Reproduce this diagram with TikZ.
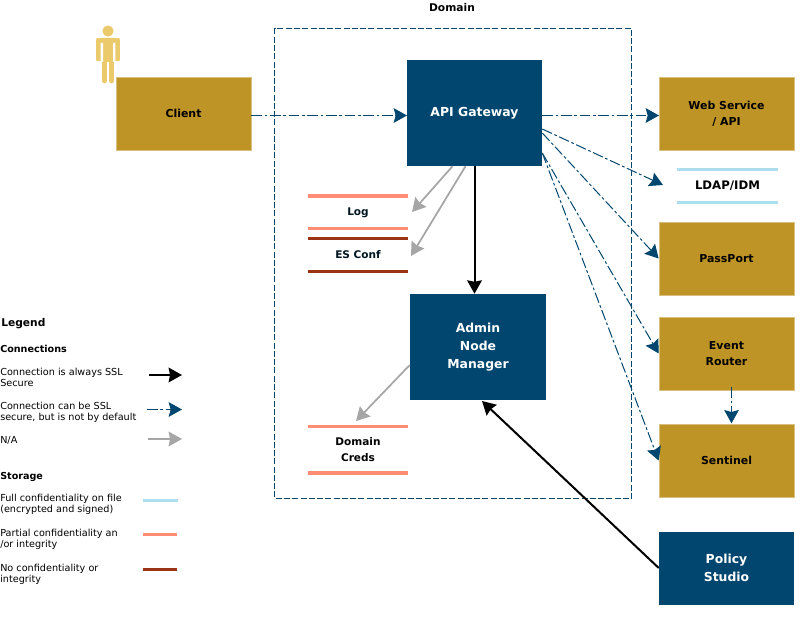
\documentclass[tikz,border=0pt]{standalone}
\usepackage{fontspec}
\setmainfont{DejaVu Sans}
\usetikzlibrary{arrows.meta}
\definecolor{gold}{HTML}{BE9426}
\definecolor{navy}{HTML}{00466E}
\definecolor{skin}{HTML}{EACA6B}
\definecolor{fullc}{HTML}{ADDEEE}
\definecolor{partc}{HTML}{FF8C74}
\definecolor{noc}{HTML}{9A3412}
\definecolor{greya}{HTML}{A6A6A6}
\tikzset{
  x=0.75pt,y=-0.75pt,
  goldbox/.style={fill=gold,draw=gold!60!white,line width=0.5pt,inner sep=0pt,align=center,font=\fontsize{8.2}{12}\selectfont\bfseries,text=black},
  navybox/.style={fill=navy,inner sep=0pt,align=center,font=\fontsize{9.3}{13.5}\selectfont\bfseries,text=white},
  store/.style={inner sep=0pt,align=center,minimum width=75pt,font=\fontsize{7.9}{12}\selectfont\bfseries},
  fullline/.style={draw=fullc,line width=2.6pt},
  partline/.style={draw=partc,line width=2.6pt},
  noline/.style={draw=noc,line width=2.6pt},
  dd/.style={navy,line width=0.75pt,dash pattern=on 8pt off 2pt on 2pt off 2pt,-{Stealth[length=10pt,width=11pt,inset=1.5pt]}},
  solidarrow/.style={black,line width=1.5pt,-{Stealth[length=10pt,width=11pt,inset=1pt]}},
  greyarrow/.style={greya,line width=1.3pt,-{Stealth[length=10pt,width=11pt,inset=1pt]}},
  lgtext/.style={anchor=west,inner sep=0pt,align=left,font=\fontsize{7.25}{8.3}\selectfont},
  lghead/.style={anchor=west,inner sep=0pt,font=\fontsize{7.2}{10}\selectfont\bfseries},
}
\begin{document}
\begin{tikzpicture}
\useasboundingbox (0,0) rectangle (800,631);
% domain
\node[inner sep=0pt,font=\fontsize{8}{10}\selectfont\bfseries] (domainlabel) at (452,7.5) {Domain};
\draw[navy,line width=0.75pt,dash pattern=on 4.5pt off 1.7pt] (274.5,28.5) rectangle (631.5,498.5);
% person
\fill[skin] (108,31) circle (5.6);
\draw[skin,line width=3.6pt,line join=round,line cap=round] (98,59) -- (98,40) -- (118,40) -- (118,59);
\fill[skin] (98,38) rectangle (118,61);
\fill[skin,rounded corners=1pt] (103,38) rectangle (113,62);
\draw[skin,line width=3.4pt,line cap=round] (104.5,60) -- (104.5,81) (111.5,60) -- (111.5,81);
\fill[white] (100.6,43) rectangle (103,62) (113,43) rectangle (115.4,62);
% boxes
\node[goldbox,minimum width=101.25pt,minimum height=54.75pt] (client) at (183.5,113.5) {Client};
\node[navybox,minimum width=101.25pt,minimum height=79.5pt] (api) at (474.5,113) {API Gateway};
\node[navybox,minimum width=102pt,minimum height=79.5pt] (admin) at (478,347) {\raisebox{-0.75pt}{Admin}\\\raisebox{-0.75pt}{Node}\\\raisebox{-0.75pt}{Manager}};
\node[goldbox,minimum width=101.25pt,minimum height=54.75pt] (web) at (726.5,113.5) {Web Service\\/ API};
\node[goldbox,minimum width=101.25pt,minimum height=54.75pt] (pass) at (726.5,258.5) {\raisebox{-0.75pt}{PassPort}};
\node[goldbox,minimum width=101.25pt,minimum height=54.75pt] (event) at (726.5,353.5) {Event\\Router};
\node[goldbox,minimum width=101.25pt,minimum height=54.75pt] (sentinel) at (726.5,460.5) {\raisebox{-0.75pt}{Sentinel}};
\node[navybox,minimum width=101.25pt,minimum height=54.75pt] (policy) at (726.5,568) {Policy\\Studio};
% stores
\node[store,minimum height=24pt,text=black!70!navy] (log) at (358,212.5) {\raisebox{-0.75pt}{Log}};
\node[store,minimum height=24pt,text=black!70!navy] (es) at (358,255) {\raisebox{-0.75pt}{ES Conf}};
\node[store,minimum height=34.5pt] (creds) at (358,449.5) {\raisebox{-0.75pt}{Domain}\\\raisebox{-0.75pt}{Creds}};
\node[store,minimum width=75pt,minimum height=24pt,font=\fontsize{8.8}{12}\selectfont\bfseries] (ldap) at (727.5,186) {\raisebox{-0.75pt}{LDAP/IDM}};
\draw[partline] (log.north west) -- (log.north east) (log.south west) -- (log.south east);
\draw[noline] (es.north west) -- (es.north east) (es.south west) -- (es.south east);
\draw[partline] (creds.north west) -- (creds.north east) (creds.south west) -- (creds.south east);
\draw[fullline] (ldap.north west) -- (ldap.north east) (ldap.south west) -- (ldap.south east);
% anchors on the boxes
\coordinate (login) at (412,212);
\coordinate (esin) at (411,256);
\coordinate (credsin) at (356,421);
\coordinate (ldapin) at (663,185);
% connectors
\draw[dd] (client.east |- api.center) ++(0,2.5) -- (407,115.5);
\draw[dd] (api.east |- web.center) ++(0,2) -- (659,115.5);
\draw[dd] (api.east) ++(0,16) -- (ldapin);
\draw[dd] (api.east) ++(0,20) -- (pass.west);
\draw[dd] (api.east) ++(0,40) -- (event.west);
\draw[dd] (api.east) ++(0,40) -- (sentinel.west);
\draw[dd] (event.south) ++(5,-3) -- ++(0,36);
\draw[greyarrow] (api.south) ++(-22,0) -- (login);
\draw[greyarrow] (api.south) ++(-9,0) -- (esin);
\draw[solidarrow] (api.south) -- (api.south |- admin.north);
\draw[greyarrow] (admin.west) ++(0,18) -- (credsin);
\draw[solidarrow] (policy.west) -- (482,401);
% legend
\node[lghead,font=\fontsize{8}{10}\selectfont\bfseries] (lgtitle) at (1,324) {Legend};
\node[lghead] (lgconn) at (0,349) {Connections};
\node[lgtext] (lg1) at (0,377) {Connection is always SSL\\Secure};
\coordinate (lg1a) at (149,375);
\coordinate (lg1b) at (182,375);
\draw[solidarrow] (lg1a) -- (lg1b);
\node[lgtext] (lg2) at (0,412) {Connection can be SSL\\secure, but is not by default};
\coordinate (lg2a) at (147,409.5);
\coordinate (lg2b) at (182,409.5);
\draw[dd] (lg2a) -- (lg2b);
\node[lgtext] (lg3) at (0,440) {N/A};
\coordinate (lg3a) at (148,439);
\coordinate (lg3b) at (182,439);
\draw[greyarrow] (lg3a) -- (lg3b);
\node[lghead] (lgstor) at (0,476.5) {Storage};
\node[lgtext] (lg4) at (0,504) {Full confidentiality on file\\(encrypted and signed)};
\draw[fullline] (143,500.5) -- (178,500.5);
\node[lgtext] (lg5) at (0,539) {Partial confidentiality an\\/or integrity};
\draw[partline] (143,534.5) -- (177,534.5);
\node[lgtext] (lg6) at (0,574) {No confidentiality or\\integrity};
\draw[noline] (143,569.5) -- (177,569.5);
\end{tikzpicture}
\end{document}
